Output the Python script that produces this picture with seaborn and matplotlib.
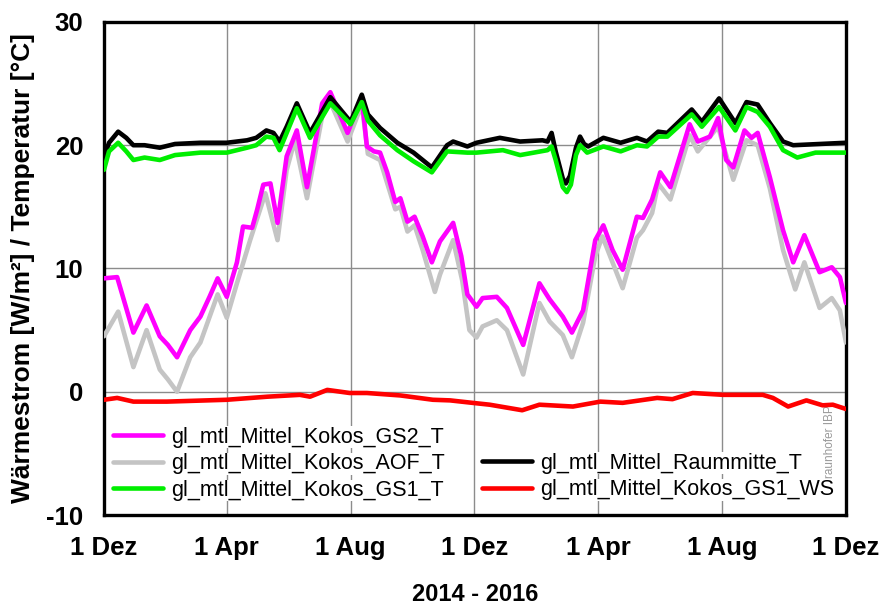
import pandas as pd
import matplotlib
matplotlib.use("Agg")
import matplotlib.pyplot as plt
import seaborn as sns

START = pd.Timestamp("2014-12-01")

# Days since 1 Dec 2014 and measured values for each channel
gs2_days = [0, 13, 29, 42, 55, 63, 72, 85, 95, 104, 112, 121, 131, 137, 146, 151, 157, 164, 171,
            180, 190, 200, 215, 223, 240, 254, 259, 266, 272, 279, 287, 292, 299, 306, 314, 323,
            331, 344, 352, 358, 367, 373, 387, 397, 413, 429, 439, 452, 461, 472, 484, 492, 501,
            511, 525, 531, 540, 548, 558, 577, 585, 597, 605, 613, 620, 631, 638, 644, 656, 669,
            679, 690, 705, 717, 725, 731]
gs2_vals = [9.2, 9.3, 4.8, 7.0, 4.5, 3.8, 2.8, 5.0, 6.1, 7.7, 9.2, 7.7, 10.5, 13.4, 13.3, 14.8, 16.8,
            16.9, 13.7, 19.1, 21.2, 16.6, 23.4, 24.3, 21.0, 23.9, 19.9, 19.5, 19.4, 17.8, 15.4,
            15.7, 13.8, 14.2, 12.6, 10.5, 12.2, 13.7, 11.0, 7.9, 6.9, 7.6, 7.7, 6.8, 3.8, 8.8, 7.5,
            6.1, 4.8, 6.6, 12.3, 13.5, 11.5, 9.9, 14.2, 14.1, 15.6, 17.8, 16.6, 21.7, 20.3, 20.7,
            22.2, 18.8, 18.2, 21.2, 20.6, 21.0, 17.4, 13.1, 10.5, 12.7, 9.7, 10.1, 9.3, 7.2]

aof_days = [0, 14, 29, 42, 55, 63, 72, 85, 95, 112, 121, 131, 144, 159, 171, 180, 188, 200, 216,
            223, 240, 254, 260, 272, 287, 292, 299, 306, 314, 326, 331, 344, 353, 360, 367, 373,
            387, 397, 413, 429, 439, 452, 461, 472, 484, 491, 501, 511, 525, 531, 540, 546, 558,
            577, 585, 605, 620, 633, 644, 656, 669, 681, 690, 705, 717, 725, 731]
aof_vals = [4.5, 6.5, 2.0, 5.0, 1.8, 1.0, 0.0, 2.8, 4.0, 7.9, 6.0, 8.8, 12.3, 16.1, 12.3, 18.0, 20.4,
            15.7, 22.8, 23.5, 20.3, 23.3, 19.3, 18.8, 14.8, 15.0, 13.0, 13.5, 11.5, 8.1, 9.5, 12.3,
            9.0, 5.0, 4.4, 5.3, 5.8, 5.0, 1.4, 7.2, 5.7, 4.6, 2.8, 5.6, 11.0, 12.6, 10.5, 8.4, 12.5,
            13.1, 14.5, 16.9, 15.6, 20.8, 19.5, 21.5, 17.2, 20.4, 20.0, 16.5, 11.5, 8.3, 10.5, 6.8,
            7.6, 6.6, 4.0]

raum_days = [0, 5, 14, 22, 29, 40, 55, 70, 95, 121, 141, 150, 160, 167, 173, 180, 190, 203, 223,
             243, 254, 260, 272, 289, 305, 323, 338, 344, 358, 367, 390, 410, 432, 437, 441, 445,
             452, 455, 459, 465, 469, 473, 477, 492, 509, 525, 535, 546, 555, 579, 589, 606, 622,
             633, 644, 656, 669, 679, 731]
raum_vals = [19.0, 20.2, 21.1, 20.6, 20.0, 20.0, 19.8, 20.1, 20.2, 20.2, 20.4, 20.6, 21.2, 21.0,
             20.3, 21.5, 23.4, 21.0, 23.9, 21.9, 24.1, 22.5, 21.4, 20.2, 19.4, 18.2, 20.0, 20.3,
             19.9, 20.2, 20.6, 20.3, 20.4, 20.3, 21.0, 19.5, 17.3, 16.9, 17.5, 19.8, 20.7, 20.1,
             19.9, 20.6, 20.2, 20.6, 20.3, 21.1, 21.0, 22.9, 21.9, 23.8, 21.8, 23.5, 23.3, 21.8,
             20.3, 20.0, 20.2]

gs1_days = [0, 5, 14, 22, 29, 40, 55, 70, 95, 121, 141, 150, 160, 167, 173, 180, 190, 203, 223,
            243, 254, 260, 272, 289, 305, 323, 338, 358, 367, 393, 410, 437, 441, 445, 452, 456,
            460, 465, 469, 476, 492, 509, 525, 535, 546, 555, 579, 589, 606, 622, 633, 644, 656,
            669, 683, 701, 731]
gs1_vals = [18.0, 19.5, 20.2, 19.5, 18.8, 19.0, 18.8, 19.2, 19.4, 19.4, 19.8, 20.0, 20.7, 20.6,
            19.6, 21.0, 23.0, 20.6, 23.4, 21.7, 23.5, 22.0, 20.8, 19.6, 18.7, 17.8, 19.5, 19.4,
            19.4, 19.6, 19.2, 19.6, 19.9, 18.8, 16.6, 16.2, 16.8, 19.2, 20.0, 19.4, 19.9, 19.5,
            20.0, 19.9, 20.7, 20.7, 22.5, 21.5, 23.1, 21.2, 23.1, 22.7, 21.5, 19.6, 19.0, 19.4,
            19.4]

ws_days = [0, 13, 29, 62, 121, 161, 193, 203, 220, 242, 259, 292, 324, 341, 363, 380, 412, 429,
           462, 489, 511, 545, 560, 580, 610, 649, 659, 674, 692, 708, 718, 731]
ws_vals = [-0.65, -0.5, -0.8, -0.8, -0.65, -0.4, -0.25, -0.4, 0.15, -0.1, -0.1, -0.3, -0.65, -0.7,
           -0.9, -1.05, -1.5, -1.05, -1.2, -0.8, -0.9, -0.5, -0.6, -0.1, -0.25, -0.25, -0.5, -1.2,
           -0.7, -1.1, -1.05, -1.4]

tick_dates = ["2014-12-01", "2015-04-01", "2015-08-01", "2015-12-01",
              "2016-04-01", "2016-08-01", "2016-12-01"]
tick_labels = ["1 Dez", "1 Apr", "1 Aug", "1 Dez", "1 Apr", "1 Aug", "1 Dez"]
y_ticks = [-10, 0, 10, 20, 30]

series = [
    ("gl_mtl_Mittel_Kokos_AOF_T", aof_days, aof_vals, "#C4C4C4"),
    ("gl_mtl_Mittel_Kokos_GS2_T", gs2_days, gs2_vals, "#FF00FF"),
    ("gl_mtl_Mittel_Raummitte_T", raum_days, raum_vals, "#000000"),
    ("gl_mtl_Mittel_Kokos_GS1_T", gs1_days, gs1_vals, "#00EE00"),
    ("gl_mtl_Mittel_Kokos_GS1_WS", ws_days, ws_vals, "#FF0000"),
]

sns.set_theme(style="white")
plt.rcParams["font.family"] = ["Liberation Sans", "DejaVu Sans"]
plt.rcParams["axes.unicode_minus"] = False
for key in ("text.color", "axes.labelcolor", "xtick.color", "ytick.color"):
    plt.rcParams[key] = "black"

fig = plt.figure(figsize=(8.84, 6.10), dpi=100)
ax = fig.add_axes([0.1176, 0.1557, 0.8394, 0.8083])

handles = {}
for name, days, vals, color in series:
    df = pd.DataFrame({"Datum": START + pd.to_timedelta(days, unit="D"), "Wert": vals})
    sns.lineplot(data=df, x="Datum", y="Wert", ax=ax, color=color, lw=3.3,
                 label=name, legend=False, zorder=3)
    line = ax.lines[-1]
    line.set_solid_joinstyle("round")
    line.set_solid_capstyle("round")
    handles[name] = line

ax.set_xlim(pd.Timestamp(tick_dates[0]), pd.Timestamp(tick_dates[-1]))
ax.set_ylim(y_ticks[0], y_ticks[-1])
ax.set_xticks(pd.to_datetime(tick_dates))
ax.set_xticklabels(tick_labels)
ax.set_yticks(y_ticks)
ax.set_yticklabels([str(v) for v in y_ticks])
ax.tick_params(axis="both", length=0, labelsize=18.5, pad=15, labelcolor="black")
for lab in ax.get_xticklabels() + ax.get_yticklabels():
    lab.set_fontweight("bold")

ax.grid(True, color="#8C8C8C", lw=1.0)
ax.set_axisbelow(True)
for sp in ax.spines.values():
    sp.set_color("black")
    sp.set_linewidth(2.4)

ax.set_xlabel("2014 - 2016", fontsize=17, fontweight="bold", labelpad=17, color="black")
ax.set_ylabel("Wärmestrom [W/m²] / Temperatur [°C]", fontsize=19, fontweight="bold",
              labelpad=8, color="black")

ax.text(0.978, 0.13, "© Fraunhofer IBP", transform=ax.transAxes, rotation=90,
        fontsize=8.5, color="#9A9A9A", ha="center", va="center", zorder=2)

legend_kw = dict(frameon=False, fontsize=15.5, handlelength=2.35, handletextpad=0.35,
                 labelspacing=0.26, borderpad=0, borderaxespad=0, labelcolor="black")

left_names = ["gl_mtl_Mittel_Kokos_GS2_T", "gl_mtl_Mittel_Kokos_AOF_T", "gl_mtl_Mittel_Kokos_GS1_T"]
right_names = ["gl_mtl_Mittel_Raummitte_T", "gl_mtl_Mittel_Kokos_GS1_WS"]

leg1 = ax.legend([handles[n] for n in left_names], left_names, loc="upper left",
                 bbox_to_anchor=(0.012, 0.179), **legend_kw)
ax.add_artist(leg1)
leg2 = ax.legend([handles[n] for n in right_names], right_names, loc="upper left",
                 bbox_to_anchor=(0.509, 0.126), **legend_kw)
for leg in (leg1, leg2):
    leg.set_zorder(6)
    for t in leg.get_texts():
        t.set_bbox(dict(facecolor="white", edgecolor="none", pad=0.3))
    for h in leg.get_lines():
        h.set_linewidth(3.3)

fig.savefig("out.png", dpi=100)
